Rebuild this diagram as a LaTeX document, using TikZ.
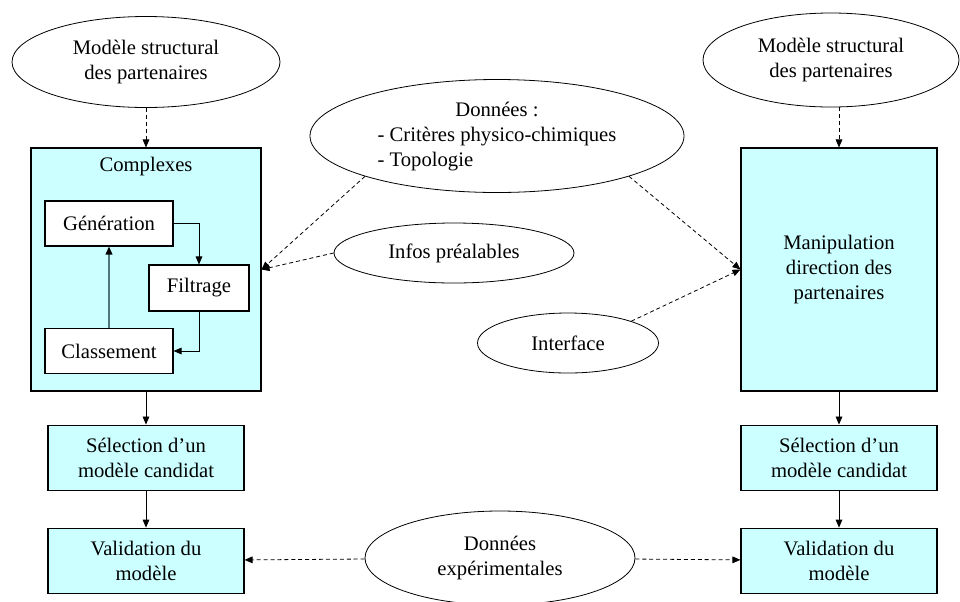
\documentclass[tikz,border=0pt]{standalone}
\usepackage{fontspec}
\setmainfont{Liberation Serif}
\usetikzlibrary{arrows.meta, positioning, shapes.geometric}
\definecolor{CyanPale}{RGB}{204, 255, 255}
\definecolor{TigeGris}{RGB}{80, 120, 120}

\begin{document}
\begin{tikzpicture}[
    x=0.75pt, y=-0.75pt,
    every node/.style={font=\fontsize{15.5}{18.75}\selectfont, align=center, inner sep=0pt},
    boite/.style={draw, line width=0.8pt, fill=CyanPale,
                 minimum width=147pt, minimum height=48.75pt},
    petite/.style={draw, line width=0.8pt, fill=white,
                 minimum width=96pt, minimum height=33.75pt},
    bulle/.style={draw, ellipse, line width=0.6pt, fill=white},
    fleche/.style={-{Triangle[length=6pt, width=5pt]}, line width=0.6pt},
    pointille/.style={fleche, dash pattern=on 3pt off 2.2pt}
]
\useasboundingbox (0,0) rectangle (960,601);
\node[bulle, minimum width=201pt, minimum height=68.25pt] (modg) at (146,62) {Modèle structural\\des partenaires};
\node[bulle, minimum width=192pt, minimum height=70.5pt] (modd) at (831,60) {Modèle structural\\des partenaires};
\node[bulle, minimum width=280.5pt, minimum height=84.75pt] (donnees) at (497,136) {\begin{tabular}{@{}l@{}}\multicolumn{1}{@{}c@{}}{Données :}\\- Critères physico-chimiques\\- Topologie\end{tabular}};
\node[bulle, minimum width=180pt, minimum height=45pt] (infos) at (454,253) {Infos préalables};
\node[bulle, minimum width=135.75pt, minimum height=45pt] (interf) at (568,343) {Interface};
\node[bulle, minimum width=202.5pt, minimum height=70.5pt] (exper) at (500,558) {Données\\expérimentales};
\node[boite, minimum width=172.5pt, minimum height=182.25pt] (cplx) at (146,269.5) {};
\node (titre) at (146,167) {Complexes};
\node[petite] (gen) at (109,223.5) {Génération};
\node[petite, minimum width=75pt, minimum height=34.5pt] (filt) at (199,288) {Filtrage};
\node[petite] (cls) at (109,351) {Classement};
\node[boite, below=24.75pt of cplx] (selg) {Sélection d’un\\modèle candidat};
\node[boite, below=27.75pt of selg] (valg) {Validation du\\modèle};
\node[boite, minimum height=182.25pt] (manip) at (839,269.5) {Manipulation\\direction des\\partenaires};
\node[boite, below=24.75pt of manip] (seld) {Sélection d’un\\modèle candidat};
\node[boite, below=27.75pt of seld] (vald) {Validation du\\modèle};
\draw[pointille] (modg) -- (cplx);
\draw[pointille] (manip.north |- modd.south) -- (manip);
\draw[pointille] (donnees.197) -- (cplx.east);
\draw[pointille] (infos.west) -- (cplx.east);
\draw[pointille] (donnees.343) -- (manip.west);
\draw[pointille] (interf.19) -- (manip.west);
\draw[fleche] (gen.east) -| (filt.north);
\draw[fleche] (filt.south) |- (cls.east);
\draw[-{Triangle[length=6pt, width=5pt, black]}, TigeGris, line width=1.2pt] (cls) -- (gen);
\draw[fleche] (cplx) -- (selg);
\draw[fleche] (selg) -- (valg);
\draw[fleche] (manip) -- (seld);
\draw[fleche] (seld) -- (vald);
\draw[pointille] (exper) -- (valg);
\draw[pointille] (exper) -- (vald);
\end{tikzpicture}
\end{document}
